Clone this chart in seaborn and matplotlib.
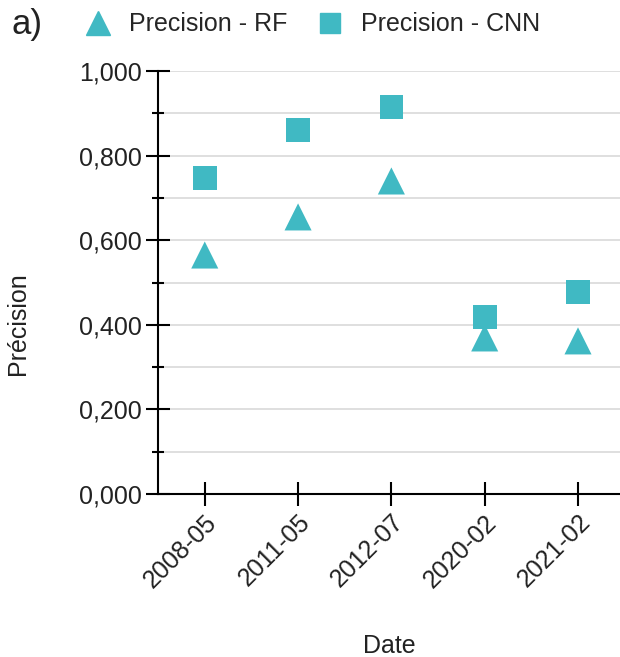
import pandas as pd
import matplotlib
matplotlib.use("Agg")
import matplotlib.pyplot as plt
import seaborn as sns
from matplotlib.ticker import MultipleLocator, FuncFormatter
from matplotlib.lines import Line2D

# Values
dates = ["2008-05", "2011-05", "2012-07", "2020-02", "2021-02"]
precision_rf = [0.565, 0.655, 0.740, 0.369, 0.362]
precision_cnn = [0.747, 0.860, 0.915, 0.418, 0.478]

teal = "#40B9C3"

df = pd.concat([
    pd.DataFrame({"Date": dates, "Précision": precision_rf, "Serie": "Precision - RF"}),
    pd.DataFrame({"Date": dates, "Précision": precision_cnn, "Serie": "Precision - CNN"}),
])

sns.set_style("white")
plt.rcParams["font.family"] = ["Liberation Sans", "DejaVu Sans"]

fig = plt.figure(figsize=(6.2, 6.57), dpi=100)
ax = fig.add_axes([0.255, 0.248, 0.745, 0.644])

sns.scatterplot(data=df[df["Serie"] == "Precision - RF"], x="Date", y="Précision",
                marker="^", s=380, color=teal, edgecolor="none", ax=ax, zorder=3)
sns.scatterplot(data=df[df["Serie"] == "Precision - CNN"], x="Date", y="Précision",
                marker="s", s=290, color=teal, edgecolor="none", ax=ax, zorder=3)

ax.set_xlim(-0.5, 4.45)
ax.set_ylim(0, 1.0)
ax.yaxis.set_major_locator(MultipleLocator(0.2))
ax.yaxis.set_minor_locator(MultipleLocator(0.1))
ax.yaxis.set_major_formatter(FuncFormatter(lambda v, p: f"{v:.3f}".replace(".", ",")))
ax.grid(True, which="both", axis="y", color="#d9d9d9", linewidth=1.2, zorder=0)
ax.set_axisbelow(True)

for side in ["top", "right"]:
    ax.spines[side].set_visible(False)
for side in ["left", "bottom"]:
    ax.spines[side].set_color("black")
    ax.spines[side].set_linewidth(1.5)

ax.tick_params(axis="y", which="major", left=True, direction="inout", length=17,
               width=1.5, color="black", labelsize=18, pad=3, labelcolor="#222222")
ax.tick_params(axis="y", which="minor", left=True, direction="inout", length=9,
               width=1.5, color="black")
ax.tick_params(axis="x", bottom=True, direction="inout", length=17, width=1.5,
               color="black", labelsize=18, pad=3, labelcolor="#222222")
plt.setp(ax.get_xticklabels(), rotation=45, ha="right", rotation_mode="anchor")

ax.set_xlabel("Date", fontsize=18, labelpad=30, color="#222222")
ax.set_ylabel("Précision", fontsize=18, color="#222222", va="center")
ax.yaxis.set_label_coords(-0.303, 0.404)

handles = [
    Line2D([], [], marker="^", linestyle="none", color=teal, markersize=17),
    Line2D([], [], marker="s", linestyle="none", color=teal, markersize=15),
]
fig.legend(handles, ["Precision - RF", "Precision - CNN"], loc="center left",
           bbox_to_anchor=(0.101, 0.963), ncol=2, frameon=False, fontsize=18,
           handletextpad=0.75, columnspacing=1.2, handlelength=1.0)
fig.text(0.018, 0.962, "a)", fontsize=25, va="center", ha="left", color="#222222")

fig.savefig("out.png", dpi=100)
